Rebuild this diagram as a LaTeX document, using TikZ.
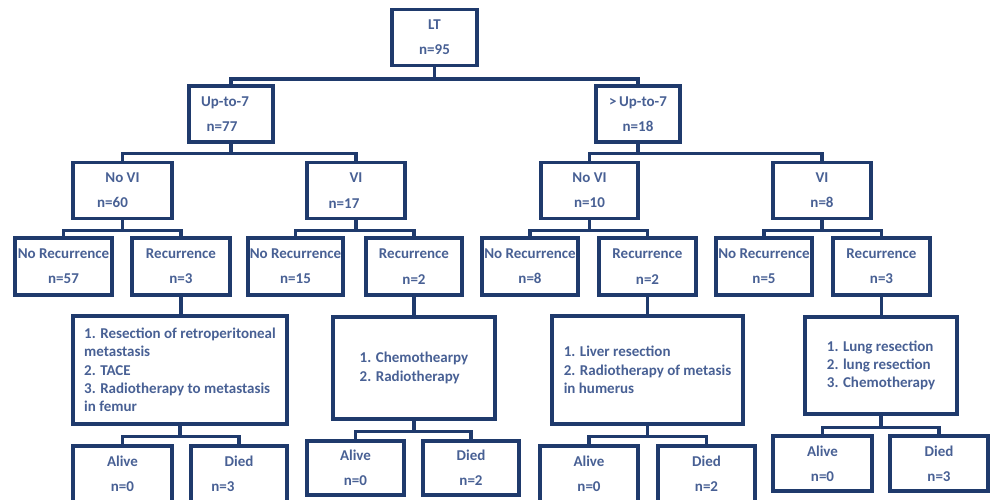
\documentclass[tikz,border=0pt]{standalone}
\usepackage{fontspec}
\setmainfont{Carlito}
\usepackage{tikz}
\usetikzlibrary{calc,positioning}
\definecolor{azulOscuro}{RGB}{31,58,108}
\definecolor{azulTexto}{RGB}{72,96,148}
\tikzstyle{box} =[rectangle, draw=azulOscuro, line width=3.4pt,
                  text=azulTexto, align=center, inner xsep=0pt,
                  font=\fontsize{15pt}{18.3pt}\selectfont\bfseries,
                  minimum height=56pt]
\tikzstyle{plan}=[box, align=left, inner xsep=4pt]
\tikzstyle{link}=[draw=azulOscuro, line width=3.4pt]
\begin{document}
\begin{tikzpicture}[x=1pt,y=-1pt]
    \useasboundingbox (0,0) rectangle (990,500);

    % LT and up-to-7
    \node[box,minimum width=85pt] (lt) at (434.5,37.5) {LT\\[7pt]n=95};
    \node[box,minimum width=84pt] (u7) at (231,114)
        {Up-to-7\hspace*{12pt}\\[7pt]n=77\hspace*{18pt}};
    \node[box,minimum width=84pt] (g7) at (638,114) {>\,Up-to-7\\[7pt]n=18};

    % vascular invasion
    \node[box,minimum width=99pt] (nvia) at (122.5,190.5)
        {No VI\\[7pt]n=60\hspace*{20pt}};
    \node[box,minimum width=98pt] (via) at (356,190.5)
        {VI\\[7pt]n=17\hspace*{24pt}};
    \node[box,minimum width=97pt] (nvib) at (589.5,190.5) {No VI\\[7pt]n=10};
    \node[box,minimum width=98pt] (vib) at (822,190.5) {VI\\[7pt]n=8};

    % recurrence
    \begin{scope}[every node/.style={box,minimum height=57pt}]
        \node[minimum width=97pt] (nra) at (63.5,266.5) {No Recurrence\\[7pt]n=57};
        \node[minimum width=98pt] (ra) at (181,266.5) {Recurrence\\[7pt]n=3};
        \node[minimum width=95pt] (nrb) at (295.5,266.5) {No Recurrence\\[7pt]n=15};
        \node[minimum width=96pt] (rb) at (414,266.5) {Recurrence\\[7pt]n=2};
        \node[minimum width=96pt] (nrc) at (530,266.5) {No Recurrence\\[7pt]n=8};
        \node[minimum width=97pt] (rc) at (647.5,266.5) {Recurrence\\[7pt]n=2};
        \node[minimum width=96pt] (nrd) at (764,266.5) {No Recurrence\\[7pt]n=5};
        \node[minimum width=97pt] (rd) at (881.5,266.5) {Recurrence\\[7pt]n=3};
    \end{scope}

    % treatment of recurrence
    \node[plan,minimum width=214pt,minimum height=108pt] (ta) at (180,370)
        {1. Resection of retroperitoneal\\metastasis\\2. TACE\\
         3. Radiotherapy to metastasis\\in femur};
    \node[plan,minimum width=162pt,minimum height=102pt] (tb) at (414,368)
        {1. Chemothearpy\\2. Radiotherapy};
    \node[plan,minimum width=191pt,minimum height=108pt] (tc) at (647.5,370)
        {1. Liver resection\\2. Radiotherapy of metasis\\in humerus};
    \node[plan,minimum width=152pt,minimum height=97pt] (td) at (881,365.5)
        {1. Lung resection\\2. lung resection\\3. Chemotherapy};

    % outcome
    \node[box,minimum width=99pt] (ala) at (122.5,474) {Alive\\[7pt]n=0};
    \node[box,minimum width=96pt] (dia) at (239,474) {Died\\[7pt]n=3\hspace*{32pt}};
    \node[box,minimum width=97pt,minimum height=54pt] (alb) at (355.5,468) {Alive\\[7pt]n=0};
    \node[box,minimum width=96pt,minimum height=54pt] (dib) at (471,468) {Died\\[7pt]n=2};
    \node[box,minimum width=98pt] (alc) at (589,474) {Alive\\[7pt]n=0};
    \node[box,minimum width=97pt] (dic) at (706.5,474) {Died\\[7pt]n=2};
    \node[box,minimum width=99pt,minimum height=55pt] (ald) at (822.5,463.5) {Alive\\[7pt]n=0};
    \node[box,minimum width=98pt,minimum height=55pt] (did) at (939,463.5) {Died\\[7pt]n=3};

    \foreach \p/\a/\b/\d in {lt/u7/g7/12, u7/nvia/via/10, g7/nvib/vib/10,
                             nvia/nra/ra/10, via/nrb/rb/10, nvib/nrc/rc/10,
                             vib/nrd/rd/10, ta/ala/dia/11, tb/alb/dib/11,
                             tc/alc/dic/11, td/ald/did/12}
        {
        \path (\p.south) ++(0,\d) coordinate (j);
        \draw [link] (\p.south) -- (j);
        \draw [link] (\a.north) |- (j) -| (\b.north);
        }

    \foreach \i/\j in {ra/ta, rb/tb, rc/tc, rd/td}
        \draw [link] (\i.south) -- (\i.south |- \j.north);

\end{tikzpicture}
\end{document}
